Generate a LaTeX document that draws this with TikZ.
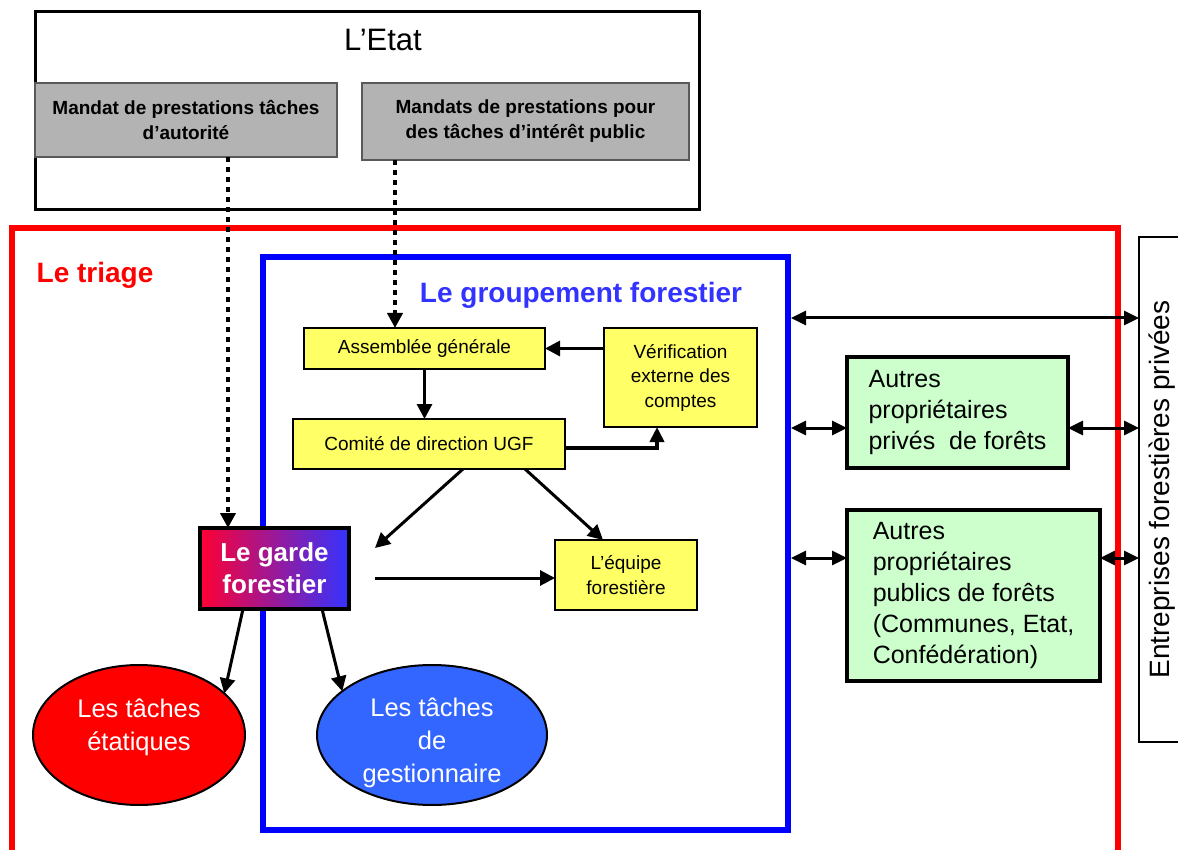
\documentclass[tikz,border=0pt]{standalone}
\usepackage{fontspec}
\setmainfont{Liberation Sans}
\usetikzlibrary{arrows.meta,shapes.geometric}
\newcommand\myfs[2]{\fontsize{#1}{#2}\selectfont}
\definecolor{gfill}{HTML}{B3B3B3}
\definecolor{yfill}{HTML}{FFFF66}
\definecolor{grfill}{HTML}{CCFFCC}
\definecolor{gblue}{HTML}{3366FF}
\definecolor{tblue}{HTML}{3333FF}
\definecolor{gdred}{HTML}{FF0033}
\definecolor{gdblue}{HTML}{3333FF}
\begin{document}
\begin{tikzpicture}[x=1pt,y=-1pt,
 graybox/.style={draw=black!65, line width=1.5, fill=gfill, font=\bfseries\myfs{19}{25}, align=center, inner sep=0, outer sep=0},
 ybox/.style={draw=black, line width=2, fill=yfill, font=\myfs{19}{24.5}, align=center, inner sep=0, outer sep=0},
 grbox/.style={draw=black, line width=4, fill=grfill, font=\myfs{25}{31}, align=left, inner sep=0, outer sep=0},
 arr/.style={line width=3, -{Triangle[length=15pt,width=15pt]}},
 darr/.style={line width=3, {Triangle[length=15pt,width=14pt]}-{Triangle[length=15pt,width=14pt]}},
 dotarr/.style={line width=4.5, dash pattern=on 5pt off 5pt, -{Triangle[length=15pt,width=15pt]}},
]
\useasboundingbox (0,0) rectangle (1178,850);
\clip (0,0) rectangle (1178,850);

% L'Etat
\node[draw, line width=3, minimum width=664, minimum height=198, inner sep=0, outer sep=0] (etat) at (367,111) {};
\node[font=\myfs{31}{36}] (etatlbl) at (383,40) {L’Etat};
\node[graybox, minimum width=302, minimum height=74] (m1) at (186,120) {Mandat de prestations tâches\\d’autorité};
\node[graybox, minimum width=327, minimum height=77] (m2) at (525.5,121.5) {Mandats de prestations pour\\des tâches d’intérêt public};

% Le triage
\draw[red, line width=6] (12,228) rectangle (1118,900);
\node[text=red, font=\bfseries\myfs{28}{32}] (triage) at (95,275) {Le triage};

% Entreprises
\node[draw, line width=1.5, rotate=90, minimum width=505, minimum height=46, inner sep=0, outer sep=0, font=\myfs{28}{30}] (ent) at (1162,489.5) {Entreprises forestières privées};

% Groupement
\node[draw=blue, line width=6, minimum width=525, minimum height=573, inner sep=0] (grp) at (525.5,543.5) {};
\node[text=tblue, font=\bfseries\myfs{28}{32}] (grplbl) at (581,295) {Le groupement forestier};

\node[ybox, minimum width=241, minimum height=41] (ag) at (424.5,348.5) {Assemblée générale};
\node[ybox, minimum width=153, minimum height=99] (ver) at (680.5,377.5) {Vérification\\externe des\\comptes};
\node[ybox, minimum width=272, minimum height=50] (com) at (429,444) {Comité de direction UGF};
\node[ybox, minimum width=142, minimum height=70] (eq) at (626,575) {L’équipe\\forestière};

\node[draw, line width=4, left color=gdred, right color=gdblue, minimum width=149, minimum height=81, text=white, font=\bfseries\myfs{26}{32}, align=center, inner sep=0, outer sep=0] (garde) at (274.5,568.5) {Le garde\\forestier};

\node[ellipse, draw, line width=2, fill=red, minimum width=212, minimum height=140, inner sep=0, outer sep=0,
  label={[text=white, font=\myfs{25.5}{33}, align=center, yshift=8]center:{Les tâches\\étatiques}}] (er) at (139,735) {};
\node[ellipse, draw, line width=2, fill=gblue, minimum width=230, minimum height=140, inner sep=0, outer sep=0,
  label={[text=white, font=\myfs{25.5}{33}, align=center, yshift=-8]center:{Les tâches\\de\\gestionnaire}}] (eb) at (432,735) {};

\node[grbox, minimum width=221, minimum height=111] (g1) at (957.5,412.5) {Autres\\propriétaires\\privés~ de forêts};
\node[grbox, minimum width=253, minimum height=171] (g2) at (973.5,595.5) {Autres\\propriétaires\\publics de forêts\\(Communes, Etat,\\Confédération)};

% connectors
\coordinate (d1x) at (228,0);
\coordinate (d2x) at (395,0);
\draw[dotarr] (m1.south -| d1x) -- (garde.north -| d1x);
\draw[dotarr] (m2.south -| d2x) -- (ag.north -| d2x);

\draw[arr] (ag.south) -- (ag.south |- com.north);
\draw[arr] (ver.west |- ag.east) -- (ag.east);
\coordinate (vx) at (657,0);
\coordinate (cv) at (0,448);
\draw[line width=4, -{Triangle[length=15pt,width=14pt]}] (com.east |- cv) -| (vx |- ver.south);
\coordinate (c1) at (463,0);
\coordinate (cg) at (375,548);
\draw[arr] (com.south -| c1) -- (cg);
\coordinate (c2) at (525,0);
\coordinate (e2) at (603,0);
\draw[arr] (com.south -| c2) -- (eq.north -| e2);
\coordinate (gs) at (375,578);
\draw[arr] (gs) -- (eq.west |- gs);
\coordinate (g1x) at (243,0);
\coordinate (g2x) at (322,0);
\draw[arr] (garde.south -| g1x) -- (er.26);
\draw[arr] (garde.south -| g2x) -- (eb.154);

\coordinate (r1) at (0,318);
\coordinate (r2) at (0,428);
\coordinate (r3) at (0,558);
\draw[darr] (grp.east |- r1) -- (ent.north |- r1);
\draw[darr] (grp.east |- r2) -- (g1.west |- r2);
\draw[darr] (g1.east |- r2) -- (ent.north |- r2);
\draw[darr] (grp.east |- r3) -- (g2.west |- r3);
\draw[darr] (g2.east |- r3) -- (ent.north |- r3);
\end{tikzpicture}
\end{document}
